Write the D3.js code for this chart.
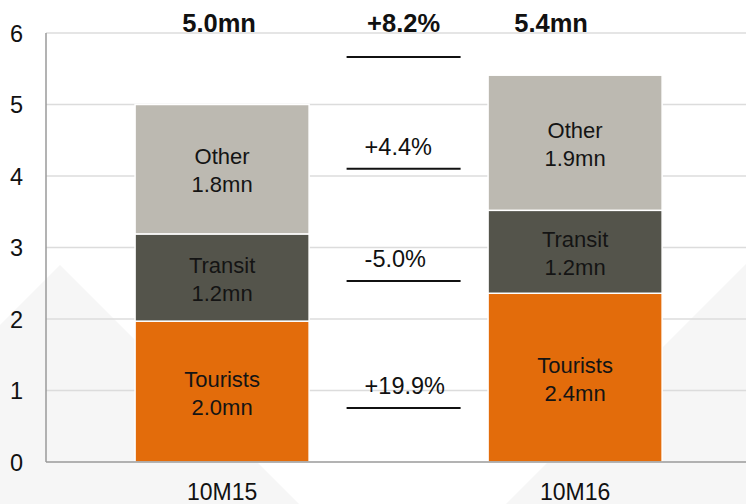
<!DOCTYPE html>
<html>
<head>
<meta charset="utf-8">
<script src="https://cdn.jsdelivr.net/npm/d3@7"></script>
<style>
  html, body { margin: 0; padding: 0; background: #fff; }
  svg { display: block; font-family: "Liberation Sans", Arial, Helvetica, sans-serif; }
</style>
</head>
<body>
<svg id="chart" width="746" height="504"></svg>
<script>
// Visitor arrivals, first ten months, millions
const periods = ["10M15", "10M16"];
const segments = ["Tourists", "Transit", "Other"];
const tourists = [1.97, 2.36];
const transit = [1.22, 1.16];
const other = [1.81, 1.89];
const changeLabels = ["+19.9%", "-5.0%", "+4.4%", "+8.2%"];
const changeLevels = [0.755, 2.53, 4.10, 5.665];
const yTicks = [0, 1, 2, 3, 4, 5, 6];

const colors = { Tourists: "#e36c0b", Transit: "#54544b", Other: "#bcb9b1" };

const W = 746, H = 504;
const margin = { top: 33, right: 0, bottom: 42, left: 46 };

const svg = d3.select("#chart");

// faint backdrop shapes
const bg = svg.append("g");
bg.append("path")
  .attr("d", "M60,265 L-200,525 L320,525 Z")
  .attr("fill", "#f6f6f6");
bg.append("path")
  .attr("d", "M850,160 L505,505 L850,505 Z")
  .attr("fill", "#f6f6f6");

const y = d3.scaleLinear().domain([0, 6]).range([H - margin.bottom, margin.top]);
const x = d3.scaleBand().domain(periods)
  .range([margin.left, W - margin.right])
  .paddingInner(0.507).paddingOuter(0.245).align(0.515);

// gridlines
svg.append("g")
  .selectAll("line")
  .data(yTicks.filter(d => d > 0))
  .join("line")
  .attr("x1", margin.left).attr("x2", W)
  .attr("y1", d => y(d)).attr("y2", d => y(d))
  .attr("stroke", "#dcdcdc").attr("stroke-width", 1.5);

// y axis
const yAxis = svg.append("g")
  .attr("transform", `translate(${margin.left},0)`)
  .call(d3.axisLeft(y).tickValues(yTicks).tickFormat(d3.format("d")).tickSize(0).tickPadding(0));
yAxis.select(".domain").remove();
yAxis.selectAll("text")
  .attr("x", -36)
  .attr("dy", "0.36em")
  .attr("text-anchor", "start")
  .attr("font-size", 23.5)
  .attr("font-family", "Liberation Sans, Arial, sans-serif")
  .attr("fill", "#111");

// stacked bars
const rows = periods.map((p, i) => ({ period: p, Tourists: tourists[i], Transit: transit[i], Other: other[i] }));
const stacked = d3.stack().keys(segments)(rows);

const layers = svg.append("g").selectAll("g")
  .data(stacked).join("g")
  .attr("fill", d => colors[d.key]);

layers.selectAll("rect")
  .data(d => d)
  .join("rect")
  .attr("x", d => x(d.data.period))
  .attr("width", x.bandwidth())
  .attr("y", d => y(d[1]))
  .attr("height", d => y(d[0]) - y(d[1]))
  .attr("stroke", "#fff")
  .attr("stroke-width", 1.5);

// segment labels: name over value
const lab = svg.append("g").selectAll("text")
  .data(stacked.flatMap(layer => layer.map(v => ({ key: layer.key, period: v.data.period, lo: v[0], hi: v[1] }))))
  .join("text")
  .attr("text-anchor", "middle")
  .attr("font-size", 22)
  .attr("fill", "#141414");
lab.append("tspan")
  .attr("x", d => x(d.period) + x.bandwidth() / 2)
  .attr("y", d => y((d.lo + d.hi) / 2) - 5)
  .text(d => d.key);
lab.append("tspan")
  .attr("x", d => x(d.period) + x.bandwidth() / 2)
  .attr("y", d => y((d.lo + d.hi) / 2) + 23)
  .text(d => (d.hi - d.lo).toFixed(1) + "mn");

// axes lines
svg.append("line")
  .attr("x1", margin.left).attr("x2", margin.left)
  .attr("y1", y(6)).attr("y2", y(0))
  .attr("stroke", "#9a9a9a").attr("stroke-width", 1.5);
svg.append("line")
  .attr("x1", margin.left).attr("x2", W)
  .attr("y1", y(0)).attr("y2", y(0))
  .attr("stroke", "#9a9a9a").attr("stroke-width", 1.5);

// category labels
svg.append("g").selectAll("text")
  .data(periods).join("text")
  .attr("x", d => x(d) + x.bandwidth() / 2)
  .attr("y", H - 4)
  .attr("text-anchor", "middle")
  .attr("font-size", 23)
  .attr("fill", "#111")
  .text(d => d);

// totals above bars
const totals = rows.map(r => r.Tourists + r.Transit + r.Other);
const totalOffset = [-3, -24];
svg.append("g").selectAll("text")
  .data(periods).join("text")
  .attr("x", (d, i) => x(d) + x.bandwidth() / 2 + totalOffset[i])
  .attr("y", 32)
  .attr("text-anchor", "middle")
  .attr("font-size", 25.5)
  .attr("font-weight", "bold")
  .attr("fill", "#111")
  .text((d, i) => totals[i].toFixed(1) + "mn");

// change annotations between bars
const gapL = x(periods[0]) + x.bandwidth();
const gapR = x(periods[1]);
const cx = (gapL + gapR) / 2 + 5;
const ann = svg.append("g").selectAll("g")
  .data(changeLabels.map((t, i) => ({ text: t, level: changeLevels[i], total: i === changeLabels.length - 1 })))
  .join("g");
ann.append("line")
  .attr("x1", cx - 57).attr("x2", cx + 57)
  .attr("y1", d => y(d.level)).attr("y2", d => y(d.level))
  .attr("stroke", "#111").attr("stroke-width", 2);
ann.append("text")
  .attr("x", d => d.total ? cx : cx - 39)
  .attr("y", d => d.total ? 32 : y(d.level) - 14)
  .attr("text-anchor", d => d.total ? "middle" : "start")
  .attr("font-size", d => d.total ? 25.5 : 23.5)
  .attr("font-weight", d => d.total ? "bold" : "normal")
  .attr("fill", "#111")
  .text(d => d.text);
</script>
</body>
</html>
